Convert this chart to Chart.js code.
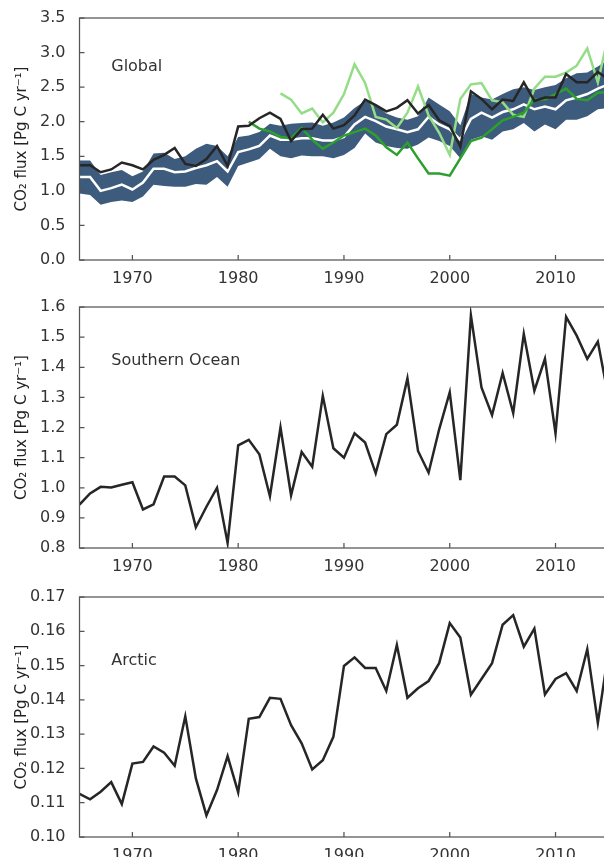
<!DOCTYPE html>
<html>
<head>
<meta charset="utf-8">
<script src="https://cdn.jsdelivr.net/npm/chart.js@4.4.1/dist/chart.umd.min.js"></script>
<style>
  html, body { margin: 0; padding: 0; background: #fff; width: 604px; height: 857px; overflow: hidden; position: relative; }
  canvas { position: absolute; left: 0; }
</style>
</head>
<body>
<canvas id="c-global" width="619" height="276" style="top:10px"></canvas>
<canvas id="c-south" width="619" height="275" style="top:299px"></canvas>
<canvas id="c-arctic" width="619" height="274" style="top:589px"></canvas>
<script>
// Años
const years = [
  1965, 1966, 1967, 1968, 1969, 1970, 1971, 1972, 1973, 1974,
  1975, 1976, 1977, 1978, 1979, 1980, 1981, 1982, 1983, 1984,
  1985, 1986, 1987, 1988, 1989, 1990, 1991, 1992, 1993, 1994,
  1995, 1996, 1997, 1998, 1999, 2000, 2001, 2002, 2003, 2004,
  2005, 2006, 2007, 2008, 2009, 2010, 2011, 2012, 2013, 2014,
  2015
];
const xTicks = [1970, 1980, 1990, 2000, 2010];

// Panel global
const globalBandLow = [
  0.96, 0.94, 0.80, 0.84, 0.86, 0.84, 0.92, 1.09, 1.07, 1.06,
  1.06, 1.10, 1.09, 1.20, 1.06, 1.36, 1.41, 1.46, 1.61, 1.50,
  1.47, 1.51, 1.50, 1.50, 1.47, 1.52, 1.62, 1.83, 1.70, 1.65,
  1.62, 1.61, 1.67, 1.77, 1.72, 1.65, 1.47, 1.74, 1.79, 1.74,
  1.86, 1.89, 1.98, 1.86, 1.96, 1.89, 2.03, 2.03, 2.08, 2.18,
  2.20
];
const globalBandHigh = [
  1.44, 1.44, 1.23, 1.27, 1.30, 1.21, 1.28, 1.54, 1.55, 1.46,
  1.50, 1.61, 1.68, 1.65, 1.50, 1.78, 1.80, 1.85, 1.97, 1.94,
  1.97, 1.98, 1.99, 1.94, 1.99, 2.06, 2.20, 2.30, 2.25, 2.12,
  2.06, 2.03, 2.08, 2.35, 2.25, 2.15, 1.95, 2.40, 2.35, 2.32,
  2.40, 2.47, 2.50, 2.46, 2.50, 2.53, 2.63, 2.70, 2.71, 2.80,
  2.90
];
const globalMean = [
  1.20, 1.20, 1.00, 1.04, 1.09, 1.02, 1.12, 1.32, 1.32, 1.27,
  1.28, 1.33, 1.37, 1.43, 1.28, 1.56, 1.60, 1.65, 1.80, 1.74,
  1.74, 1.76, 1.76, 1.73, 1.73, 1.78, 1.96, 2.07, 2.01, 1.93,
  1.89, 1.85, 1.89, 2.07, 1.96, 1.89, 1.74, 2.04, 2.13, 2.06,
  2.14, 2.18, 2.25, 2.18, 2.22, 2.18, 2.31, 2.35, 2.40, 2.48,
  2.54
];
const globalLightGreen = [
  null, null, null, null, null, null, null, null, null, null,
  null, null, null, null, null, null, null, null, null, 2.41,
  2.32, 2.12, 2.19, 1.99, 2.13, 2.40, 2.83, 2.56, 2.07, 2.03,
  1.91, 2.13, 2.51, 2.09, 1.84, 1.52, 2.33, 2.54, 2.56, 2.31,
  2.28, 2.10, 2.07, 2.48, 2.65, 2.65, 2.71, 2.81, 3.06, 2.57,
  3.25
];
const globalDarkGreen = [
  null, null, null, null, null, null, null, null, null, null,
  null, null, null, null, null, null, 2.00, 1.90, 1.86, 1.78,
  1.76, 1.91, 1.74, 1.61, 1.70, 1.80, 1.85, 1.90, 1.80, 1.63,
  1.52, 1.70, 1.47, 1.25, 1.25, 1.22, 1.47, 1.72, 1.77, 1.89,
  2.02, 2.07, 2.13, 2.32, 2.32, 2.40, 2.48, 2.33, 2.31, 2.42,
  2.43
];
const globalBlack = [
  1.37, 1.37, 1.27, 1.31, 1.41, 1.37, 1.31, 1.45, 1.52, 1.62,
  1.39, 1.36, 1.46, 1.65, 1.36, 1.93, 1.94, 2.05, 2.13, 2.04,
  1.72, 1.89, 1.90, 2.10, 1.90, 1.95, 2.09, 2.32, 2.24, 2.15,
  2.20, 2.31, 2.12, 2.24, 2.02, 1.94, 1.64, 2.44, 2.33, 2.18,
  2.32, 2.30, 2.57, 2.30, 2.35, 2.35, 2.69, 2.57, 2.57, 2.72,
  2.61
];
const globalYTicks = [0.0, 0.5, 1.0, 1.5, 2.0, 2.5, 3.0, 3.5];

// Panel Océano Austral
const southernFlux = [
  0.944, 0.981, 1.003, 1.001, 1.010, 1.018, 0.928, 0.945, 1.037, 1.037,
  1.008, 0.869, 0.937, 1.000, 0.817, 1.141, 1.159, 1.111, 0.972, 1.200,
  0.975, 1.119, 1.070, 1.305, 1.131, 1.100, 1.181, 1.150, 1.048, 1.178,
  1.209, 1.363, 1.122, 1.050, 1.194, 1.317, 1.025, 1.572, 1.333, 1.241,
  1.381, 1.248, 1.511, 1.322, 1.428, 1.180, 1.567, 1.505, 1.428, 1.485,
  1.300
];
const southernYTicks = [0.8, 0.9, 1.0, 1.1, 1.2, 1.3, 1.4, 1.5, 1.6];

// Panel Ártico
const arcticFlux = [
  0.1126, 0.1110, 0.1132, 0.1160, 0.1096, 0.1214, 0.1219, 0.1264, 0.1246, 0.1208,
  0.1352, 0.1171, 0.1063, 0.1137, 0.1236, 0.1130, 0.1345, 0.1350, 0.1406, 0.1403,
  0.1326, 0.1273, 0.1197, 0.1224, 0.1292, 0.1499, 0.1524, 0.1493, 0.1493, 0.1426,
  0.1560, 0.1406, 0.1434, 0.1455, 0.1507, 0.1624, 0.1582, 0.1415, 0.1461, 0.1507,
  0.1619, 0.1647, 0.1555, 0.1608, 0.1416, 0.1461, 0.1478, 0.1426, 0.1548, 0.1333,
  0.1540
];
const arcticYTicks = [0.10, 0.11, 0.12, 0.13, 0.14, 0.15, 0.16, 0.17];

const yTitle = 'CO\u2082 flux [Pg C yr\u207B\u00B9]';

Chart.defaults.font.family = '"DejaVu Sans", sans-serif';
Chart.defaults.font.size = 16;
Chart.defaults.color = '#333';

/**
 * Marco, ticks hacia dentro y etiqueta del panel
 */
const framePlugin = {
  id: 'frame',
  afterDraw(chart, args, opts) {
    const { ctx, chartArea: a } = chart;
    const x = chart.scales.x;
    const y = chart.scales.y;
    ctx.save();
    ctx.strokeStyle = '#555';
    ctx.lineWidth = 1.25;
    ctx.strokeRect(a.left, a.top, a.right - a.left, a.bottom - a.top);
    ctx.beginPath();
    y.ticks.forEach(t => {
      const py = y.getPixelForValue(t.value);
      ctx.moveTo(a.left, py);
      ctx.lineTo(a.left + 5, py);
    });
    x.ticks.forEach(t => {
      const px = x.getPixelForValue(t.value);
      ctx.moveTo(px, a.bottom);
      ctx.lineTo(px, a.bottom - 5);
    });
    ctx.stroke();
    ctx.fillStyle = '#333';
    ctx.font = '16px "DejaVu Sans", sans-serif';
    ctx.textBaseline = 'middle';
    ctx.fillText(opts.text, x.getPixelForValue(opts.at[0]), y.getPixelForValue(opts.at[1]));
    ctx.restore();
  }
};

function lineSet(values, color, width, order) {
  return {
    data: values,
    borderColor: color,
    backgroundColor: color,
    borderWidth: width,
    pointRadius: 0,
    tension: 0,
    fill: false,
    order: order
  };
}

function makePanel(id, datasets, yTicks, digits, text, at) {
  const ctx = document.getElementById(id).getContext('2d');
  return new Chart(ctx, {
    type: 'line',
    data: { labels: years, datasets: datasets },
    options: {
      responsive: false,
      animation: false,
      layout: { padding: { top: 8, right: 0, bottom: 0, left: 0 } },
      plugins: {
        legend: { display: false },
        tooltip: { enabled: false },
        filler: { drawTime: 'beforeDatasetsDraw' },
        frame: { text: text, at: at }
      },
      scales: {
        x: {
          type: 'linear',
          min: 1965,
          max: 2016,
          grid: { display: false },
          border: { display: false },
          afterBuildTicks: s => { s.ticks = xTicks.map(v => ({ value: v })); },
          afterFit: s => {
            s.height = 26;
            s.paddingLeft = 0;
            s.paddingRight = 0;
          },
          ticks: { padding: 1, maxRotation: 0, callback: v => String(v) }
        },
        y: {
          min: yTicks[0],
          max: yTicks[yTicks.length - 1],
          grid: { display: false },
          border: { display: false },
          afterBuildTicks: s => { s.ticks = yTicks.map(v => ({ value: v })); },
          afterFit: s => {
            s.width = 79.5;
            s.paddingTop = 0;
            s.paddingBottom = 0;
          },
          ticks: { padding: 6, callback: v => Number(v).toFixed(digits) },
          title: {
            display: true,
            text: yTitle,
            font: { size: 15 },
            color: '#222',
            padding: { top: 13, bottom: 0 }
          }
        }
      }
    },
    plugins: [framePlugin]
  });
}

// Global
makePanel('c-global', [
  Object.assign(lineSet(globalBandLow, 'rgba(0,0,0,0)', 0, 6), { fill: false }),
  Object.assign(lineSet(globalBandHigh, '#3d5b7c', 0, 5), { fill: '-1', backgroundColor: '#3d5b7c' }),
  lineSet(globalMean, '#ffffff', 2.5, 4),
  lineSet(globalLightGreen, '#95dc86', 2.5, 3),
  lineSet(globalDarkGreen, '#2ca02c', 2.5, 2),
  lineSet(globalBlack, '#262626', 2.5, 1)
], globalYTicks, 1, 'Global', [1968, 2.79]);

// Océano Austral
makePanel('c-south', [
  lineSet(southernFlux, '#262626', 2.5, 1)
], southernYTicks, 1, 'Southern Ocean', [1968, 1.421]);

// Ártico
makePanel('c-arctic', [
  lineSet(arcticFlux, '#262626', 2.5, 1)
], arcticYTicks, 2, 'Arctic', [1968, 0.1515]);
</script>
</body>
</html>
